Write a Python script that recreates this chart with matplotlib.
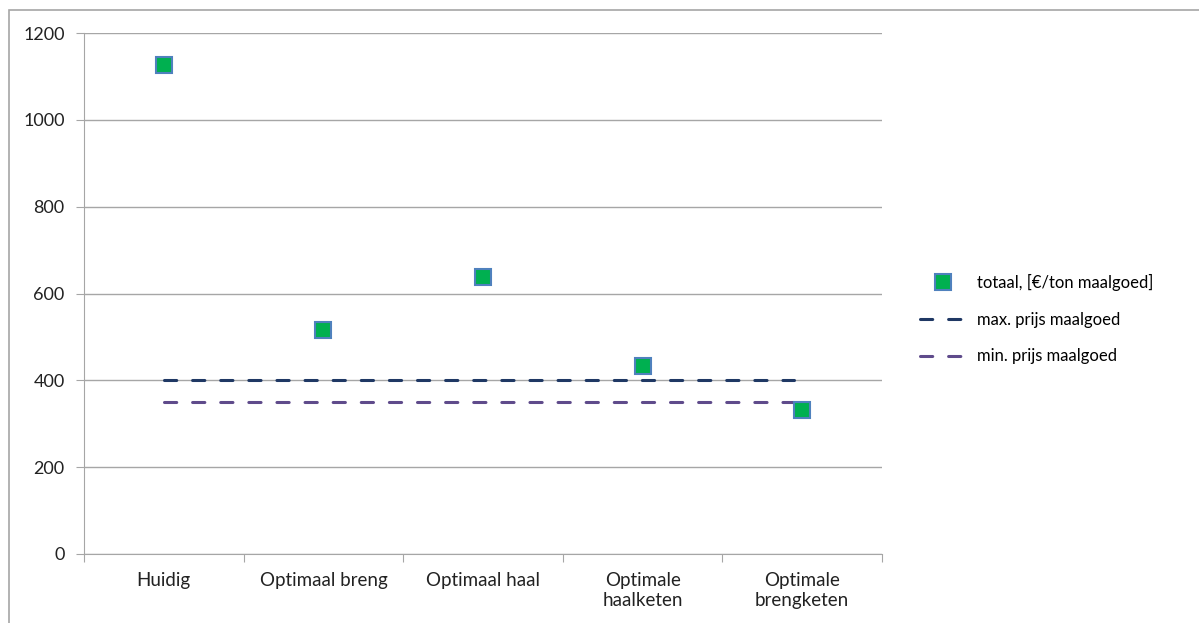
import matplotlib
matplotlib.use("Agg")
import matplotlib.pyplot as plt
from matplotlib.patches import Rectangle

categories = ["Huidig", "Optimaal breng", "Optimaal haal", "Optimale\nhaalketen", "Optimale\nbrengketen"]
totaal = [1127, 516, 637, 434, 332]
max_prijs = [400, 400, 400, 400, 400]
min_prijs = [350, 350, 350, 350, 350]
yticks = [0, 200, 400, 600, 800, 1000, 1200]

plt.rcParams['font.family'] = ['Lato', 'DejaVu Sans']

W, H = 1199, 623
fig = plt.figure(figsize=(W/100, H/100), dpi=100)
ax = fig.add_axes([84/W, 1-554/H, (882-84)/W, (554-33)/H])

x = list(range(len(categories)))
line_x = x[:4] + [x[3] + 0.95]
dash = (0, (4.0, 5.2))
ax.plot(line_x, max_prijs, linestyle=dash, color="#1F3864", lw=2.2, dash_capstyle="round",
        label="max. prijs maalgoed", zorder=2)
ax.plot(line_x, min_prijs, linestyle=dash, color="#5F4B8B", lw=2.2, dash_capstyle="round",
        label="min. prijs maalgoed", zorder=2)
ax.plot(x, totaal, linestyle="none", marker="s", markersize=11, markerfacecolor="#00B050",
        markeredgecolor="#4F81BD", markeredgewidth=1.5, label="totaal, [€/ton maalgoed]", zorder=3)

ax.set_xlim(-0.5, 4.5)
ax.set_ylim(0, 1200)
ax.set_yticks(yticks)
ax.set_yticklabels([str(v) for v in yticks], fontsize=13, color="#222222")
ax.grid(axis="y", color="#A6A6A6", lw=1)
ax.set_axisbelow(True)
ax.set_xticks([i - 0.5 for i in range(6)], minor=False)
ax.set_xticklabels([""] * 6)
ax.set_xticks(x, minor=True)
ax.set_xticklabels(categories, minor=True, fontsize=13.5, color="#222222")
ax.tick_params(axis="x", which="minor", length=0, pad=13)
ax.tick_params(axis="x", which="major", length=6, color="#A6A6A6")
ax.tick_params(axis="y", length=6, color="#A6A6A6", pad=8)
for s in ["top", "right"]:
    ax.spines[s].set_visible(False)
for s in ["left", "bottom"]:
    ax.spines[s].set_color("#A6A6A6")

handles, labels = ax.get_legend_handles_labels()
order = [2, 0, 1]
leg = fig.legend([handles[i] for i in order], [labels[i] for i in order],
                 loc="center left", bbox_to_anchor=(905/W, 1-319/H), frameon=False,
                 fontsize=12, labelspacing=1.25, handlelength=2.8, handletextpad=0.6)

fig.patches.append(Rectangle((9/W, -0.1), 1.2, 1 - 10/H + 0.1, transform=fig.transFigure,
                             fill=False, edgecolor="#A6A6A6", lw=1.2))

fig.savefig("out.png", dpi=100)
